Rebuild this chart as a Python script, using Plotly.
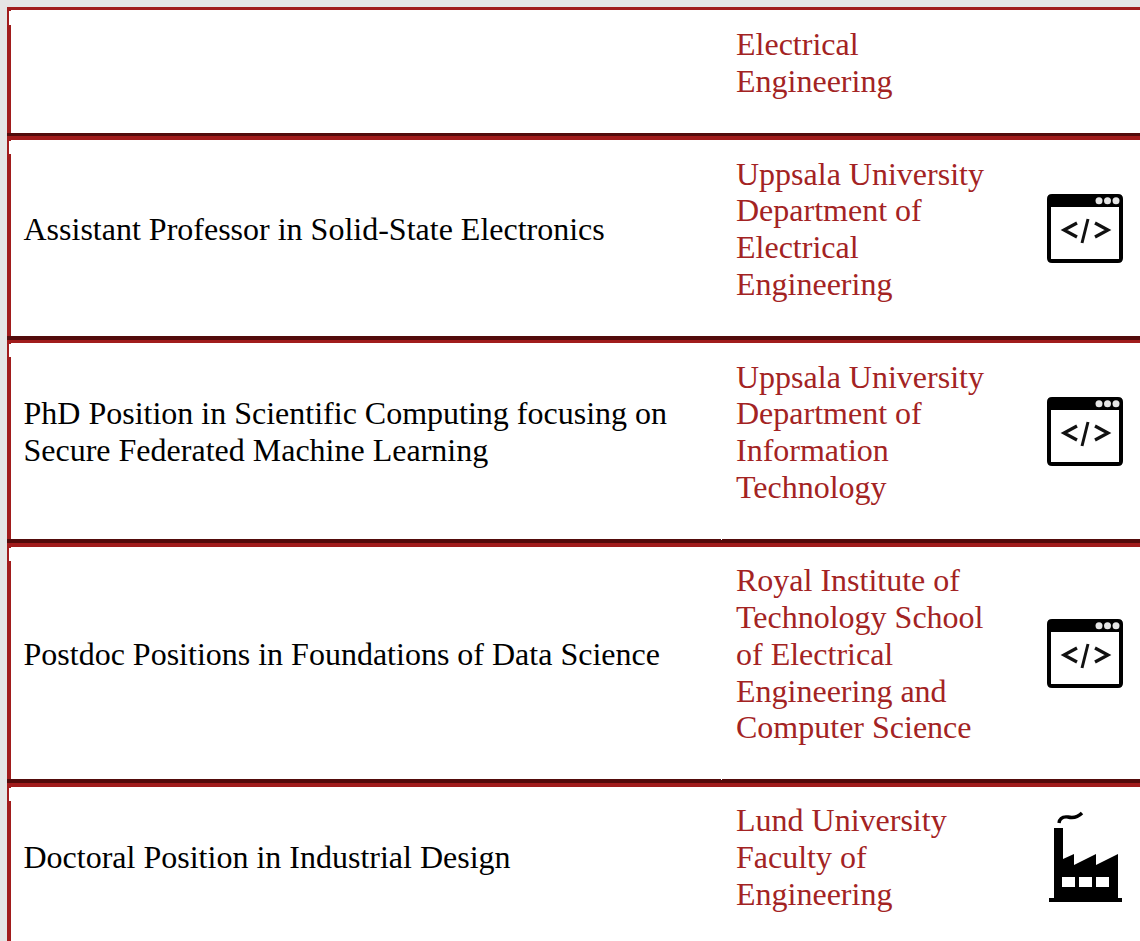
import plotly.graph_objects as go

W, H = 1140, 941
FONT = "Liberation Serif"
SIZE = 32
RED = "#a11c1c"
DARK = "#520b0b"
LINK = "#a32323"
BG = "#e5e5e5"

title_lines = [
    "Assistant Professor in Solid-State Electronics",
    "PhD Position in Scientific Computing focusing on",
    "Secure Federated Machine Learning",
    "Postdoc Positions in Foundations of Data Science",
    "Doctoral Position in Industrial Design",
]
title_y = [232, 416, 453, 657, 860]

org_lines = [
    "Electrical", "Engineering",
    "Uppsala University", "Department of", "Electrical", "Engineering",
    "Uppsala University", "Department of", "Information", "Technology",
    "Royal Institute of", "Technology School", "of Electrical", "Engineering and", "Computer Science",
    "Lund University", "Faculty of", "Engineering",
]
org_y = [
    47, 84,
    177, 213, 250, 287,
    380, 416, 453, 490,
    583, 620, 657, 694, 730,
    823, 860, 897,
]

row_tops = [133, 336, 539, 779]
row_dark = [3, 4, 4, 4]
row_red = [4, 3, 4, 4]
code_icon_tops = [194, 397, 619]
factory_top = 812


def rect(x0, y0, x1, y1, color):
    return dict(type="rect", x0=x0, y0=y0, x1=x1, y1=y1, fillcolor=color, line_width=0, layer="below")


def path(d, fill=None, stroke=None, width=0):
    s = dict(type="path", path=d, line=dict(width=width, color=stroke or "rgba(0,0,0,0)"))
    if fill:
        s["fillcolor"] = fill
    return s


def code_icon(top):
    x, y = 1047, top
    T = lambda a, b: f"{x + a},{y + b}"
    out = [
        path(f"M{T(5,0)} L{T(71,0)} Q{T(76,0)} {T(76,5)} L{T(76,64)} Q{T(76,69)} {T(71,69)} "
             f"L{T(5,69)} Q{T(0,69)} {T(0,64)} L{T(0,5)} Q{T(0,0)} {T(5,0)} Z", fill="#000"),
        rect(x + 4, y + 13, x + 72, y + 65, "#fff") | {"layer": "above"},
    ]
    for dx in (52, 60.5, 69):
        out.append(dict(type="circle", x0=x + dx - 3.5, x1=x + dx + 3.5, y0=y + 3.2, y1=y + 10.2,
                        fillcolor="#e6e6e6", line_width=0))
    out.append(path(f"M{T(30,29)} L{T(17,36)} L{T(30,43)}", stroke="#111", width=3.2))
    out.append(path(f"M{T(41,25)} L{T(35,49)}", stroke="#111", width=3))
    out.append(path(f"M{T(48,29)} L{T(61,36)} L{T(48,43)}", stroke="#111", width=3.2))
    return out


def factory_icon(top):
    x, y = 1049, top
    T = lambda a, b: f"{x + a},{y + b}"
    out = [
        path(f"M{T(5,16)} L{T(14,16)} L{T(14,47)} L{T(25,42)} L{T(25,53)} L{T(47,42)} L{T(47,53)} "
             f"L{T(69,42)} L{T(69,86)} L{T(73,86)} L{T(73,90)} L{T(0,90)} L{T(0,86)} L{T(5,86)} Z", fill="#000"),
        path(f"M{T(10,11)} Q{T(11,4)} {T(19,5)} Q{T(27,7)} {T(33,1)}", stroke="#000", width=3.4),
    ]
    for a, b in ((13, 26), (30, 43), (47, 60)):
        out.append(rect(x + a, y + 65, x + b, y + 75, "#fff") | {"layer": "above"})
    return out


shapes = [rect(0, 0, W, H, BG), rect(7, 7, W, H, "#fff")]
shapes.append(rect(7, 7, 11, H, RED))
shapes.append(rect(7, 7, W, 10, RED))
shapes.append(rect(9, 11, 11, 25, "#fff"))
for t, d, r in zip(row_tops, row_dark, row_red):
    shapes.append(rect(7, t, W, t + d, DARK))
    shapes.append(rect(7, t + d, W, t + d + r, RED))
    bottom = t + d + r
    shapes.append(rect(9, bottom + 1, 11, bottom + 14, "#fff"))
    if t in (539, 779):
        shapes.append(rect(721, t, 722, t + 1, "#fff"))

for t in code_icon_tops:
    shapes += code_icon(t)
shapes += factory_icon(factory_top)

fig = go.Figure()
fig.add_trace(go.Scatter(
    x=[23.5] * len(title_lines), y=title_y, text=title_lines, mode="text",
    textposition="middle right", textfont=dict(family=FONT, size=SIZE, color="#000"),
    hoverinfo="skip", showlegend=False,
))
fig.add_trace(go.Scatter(
    x=[736] * len(org_lines), y=org_y, text=org_lines, mode="text",
    textposition="middle right", textfont=dict(family=FONT, size=SIZE, color=LINK),
    hoverinfo="skip", showlegend=False,
))
fig.update_layout(
    width=W, height=H, margin=dict(l=0, r=0, t=0, b=0), autosize=False,
    paper_bgcolor=BG, plot_bgcolor="#fff", shapes=shapes,
    xaxis=dict(range=[0, W], visible=False, fixedrange=True),
    yaxis=dict(range=[H, 0], visible=False, fixedrange=True),
)
fig.write_html("out.html", config={"displayModeBar": False},
               default_width=W, default_height=H,
               post_script="document.body.style.margin='0';")
